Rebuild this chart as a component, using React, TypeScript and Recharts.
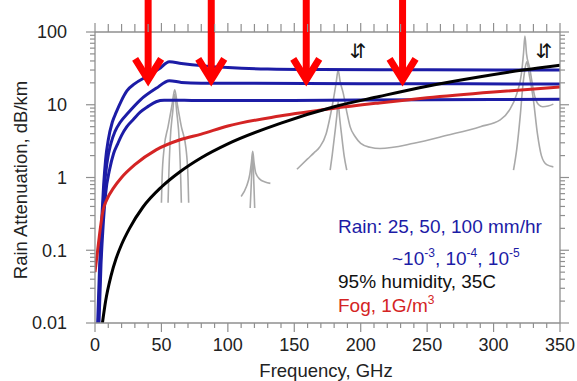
import { LineChart, Line, XAxis, YAxis, ReferenceDot } from "recharts";

const W = 577;
const H = 381;
const FONT = '"Liberation Sans", Arial, sans-serif';
const AXIS = "#8f8f8f";
const BLUE = "#1c1ca6";
const RED = "#d42424";

// rain, 100 mm/hr
const rain100Freq = [2, 3.5, 5, 6.5, 8, 10, 13, 16, 20, 24, 30, 39, 48, 56, 65, 80, 100, 130, 170, 250, 350];
const rain100Att = [0.01, 0.063, 0.25, 0.79, 1.78, 3.3, 5.75, 7.9, 11.5, 15.5, 19.5, 24.5, 30.9, 38.9, 37, 34.5, 32.5, 31, 30.5, 30.2, 30];

// rain, 50 mm/hr
const rain50Freq = [2.5, 4, 5.5, 7, 9, 12, 15, 19, 25, 34, 46, 56, 65, 80, 120, 200, 350];
const rain50Att = [0.01, 0.063, 0.25, 0.71, 1.58, 2.95, 4.27, 5.75, 7.76, 11.6, 16.8, 21.4, 20.3, 19.8, 19.7, 19.5, 19.3];

// rain, 25 mm/hr
const rain25Freq = [3, 4.5, 6, 8, 11, 14, 17, 20, 24, 29, 34, 40, 46, 52, 60, 100, 200, 300, 350];
const rain25Att = [0.01, 0.063, 0.2, 0.6, 1.29, 2.14, 2.88, 3.8, 5.0, 6.3, 7.9, 9.5, 11, 11.5, 11.5, 11.4, 11.6, 11.8, 11.9];

// fog, 1 g/m3
const fogFreq = [0, 2, 4, 6, 9, 14, 20, 30, 46, 64, 80, 100, 139, 179, 214, 250, 300, 350];
const fogAtt = [0.05, 0.1, 0.2, 0.35, 0.5, 0.72, 1.0, 1.5, 2.4, 3.3, 3.95, 5.1, 7.0, 8.9, 10.6, 12.5, 15, 17.5];

// 95% humidity, 35C
const humidFreq = [5.6, 8, 12, 16, 20, 26, 36, 50, 64, 80, 100, 140, 180, 214, 250, 290, 322, 350];
const humidAtt = [0.01, 0.02, 0.044, 0.078, 0.12, 0.2, 0.39, 0.74, 1.2, 1.87, 2.9, 5.6, 9.4, 13, 18, 24.3, 30, 35];

// grey absorption lines (overlay)
const o2OuterFreq = [50, 50.5, 52, 55, 58, 60, 62, 65, 68.5, 70, 70.5];
const o2OuterAtt = [0.45, 1, 2.5, 5, 10, 16, 10, 5, 2.5, 1, 0.45];
const o2InnerFreq = [55, 55.5, 56.5, 58.5, 60, 61.5, 63.5, 64.5, 65];
const o2InnerAtt = [0.45, 1, 3, 8, 14, 8, 3, 1, 0.45];
const o2bOuterFreq = [110, 114, 116.5, 117.7, 118.7, 119.7, 121, 124, 128, 132];
const o2bOuterAtt = [0.55, 0.75, 1.1, 1.6, 2.3, 1.6, 1.15, 0.95, 0.87, 0.83];
const o2bInnerFreq = [116.8, 117.6, 118.7, 119.6, 120.2];
const o2bInnerAtt = [0.38, 0.8, 2.1, 0.8, 0.38];
const h2oFreq = [152, 160, 165, 169, 174, 177, 179.5, 181.5, 183, 184.5, 187, 189.5, 192, 196, 200, 207, 214.5, 240, 265, 290, 305, 312, 317.4, 321, 322.5, 323.6, 324.8, 327, 331, 334, 337, 341, 345];
const h2oAtt = [1.3, 1.8, 2.2, 2.6, 4.0, 6.9, 12, 20, 30, 21, 14, 8, 5, 3.6, 2.95, 2.6, 2.5, 2.95, 3.8, 5.0, 6.2, 8.5, 14, 27, 50, 88, 50, 33, 13, 10, 9.4, 9.6, 10.2];
const h2oInnerFreq = [177, 178.5, 180.5, 182, 183, 184, 185.5, 187.5, 189.5];
const h2oInnerAtt = [1.26, 2, 4, 7, 11, 7, 4, 2, 1.26];
const h2oBInnerFreq = [315, 317.5, 320, 322, 323.5, 325, 327, 330, 333, 336, 340, 345];
const h2oBInnerAtt = [1.26, 2.5, 6.8, 18, 30, 39, 25, 11.6, 4, 2, 1.5, 1.4];

// annotation positions
const arrowFreqs = [40, 87.5, 159, 231.5];
const swapFreqs = [198, 338];

const xMajorTicks = [0, 50, 100, 150, 200, 250, 300, 350];
const yMajorTicks = [0.01, 0.1, 1, 10, 100];

const xTicks = Array.from({ length: 36 }, (_, i) => i * 10);
const yTicks = [
  ...yMajorTicks.slice(0, -1).flatMap((d) => [1, 2, 3, 4, 5, 6, 7, 8, 9].map((m) => Number((m * d).toPrecision(3)))),
  100,
];

const zip = (f: number[], v: number[]) => f.map((x, i) => ({ f: x, v: v[i] }));

const grey = [
  zip(o2OuterFreq, o2OuterAtt),
  zip(o2InnerFreq, o2InnerAtt),
  zip(o2bOuterFreq, o2bOuterAtt),
  zip(o2bInnerFreq, o2bInnerAtt),
  zip(h2oFreq, h2oAtt),
  zip(h2oInnerFreq, h2oInnerAtt),
  zip(h2oBInnerFreq, h2oBInnerAtt),
];

const isMajorY = (v: number) => {
  const l = Math.log10(v);
  return Math.abs(l - Math.round(l)) < 1e-6;
};

const XTick = ({ x, y, payload, top }: any) => {
  const major = xMajorTicks.includes(payload.value);
  const len = top ? (major ? 9 : 8) : major ? 9 : 5;
  const dir = top ? -1 : 1;
  return (
    <g>
      <line x1={x} x2={x} y1={y} y2={y + dir * len} stroke={AXIS} strokeWidth={1.2} />
      {major && !top && (
        <text x={x} y={y + 28} textAnchor="middle" fontSize={18} fill="#222" fontFamily={FONT}>
          {payload.value}
        </text>
      )}
    </g>
  );
};

const YTick = ({ x, y, payload, right }: any) => {
  const major = isMajorY(payload.value);
  const len = major ? 9 : 5;
  const dir = right ? 1 : -1;
  return (
    <g>
      <line x1={x} x2={x + dir * len} y1={y} y2={y} stroke={AXIS} strokeWidth={1.2} />
      {major && !right && (
        <text x={x - 28} y={y} dy="0.35em" textAnchor="end" fontSize={18} fill="#222" fontFamily={FONT}>
          {String(payload.value)}
        </text>
      )}
    </g>
  );
};

const Arrow = ({ cx, cy }: any) => (
  <g>
    <path d={`M${cx},${cy - 84} L${cx},${cy - 6}`} stroke="#ff0000" strokeWidth={7} fill="none" />
    <path
      d={`M${cx - 13},${cy - 24} L${cx},${cy - 3} L${cx + 13},${cy - 24}`}
      stroke="#ff0000"
      strokeWidth={7}
      fill="none"
      strokeLinejoin="miter"
    />
  </g>
);

const Swap = ({ cx, cy }: any) => (
  <text x={cx} y={cy} dy="0.35em" textAnchor="middle" fontSize={20} fill="#111" fontFamily="DejaVu Sans">
    ⇵
  </text>
);

export default function App() {
  return (
    <div style={{ position: "absolute", left: 0, top: 0, width: W, height: H, background: "#fff" }}>
      <LineChart width={W} height={H} margin={{ top: 22, right: 7, bottom: 8, left: 10 }}>
        <XAxis
          dataKey="f"
          type="number"
          domain={[0, 350]}
          allowDataOverflow
          ticks={xTicks}
          interval={0}
          height={50}
          tickSize={0}
          tickMargin={0}
          tickLine={false}
          axisLine={{ stroke: AXIS, strokeWidth: 1.3 }}
          tick={(p: any) => <XTick {...p} />}
        />
        <XAxis
          xAxisId="top"
          orientation="top"
          dataKey="f"
          type="number"
          domain={[0, 350]}
          allowDataOverflow
          ticks={xTicks}
          interval={0}
          height={10}
          tickSize={0}
          tickMargin={0}
          tickLine={false}
          axisLine={{ stroke: AXIS, strokeWidth: 1.3 }}
          tick={(p: any) => <XTick {...p} top />}
        />
        <YAxis
          scale="log"
          domain={[0.01, 100]}
          allowDataOverflow
          ticks={yTicks}
          interval={0}
          width={85}
          tickSize={0}
          tickMargin={0}
          tickLine={false}
          axisLine={{ stroke: AXIS, strokeWidth: 1.3 }}
          tick={(p: any) => <YTick {...p} />}
        />
        <YAxis
          yAxisId="right"
          orientation="right"
          scale="log"
          domain={[0.01, 100]}
          allowDataOverflow
          ticks={yTicks}
          interval={0}
          width={10}
          tickSize={0}
          tickMargin={0}
          tickLine={false}
          axisLine={{ stroke: AXIS, strokeWidth: 1.3 }}
          tick={(p: any) => <YTick {...p} right />}
        />

        {grey.map((d, i) => (
          <Line
            key={`g${i}`}
            data={d}
            dataKey="v"
            type="monotone"
            stroke="#a9a9a9"
            strokeWidth={1.6}
            dot={false}
            isAnimationActive={false}
          />
        ))}
        <Line data={zip(rain100Freq, rain100Att)} dataKey="v" type="monotone" stroke={BLUE} strokeWidth={3} dot={false} isAnimationActive={false} />
        <Line data={zip(rain50Freq, rain50Att)} dataKey="v" type="monotone" stroke={BLUE} strokeWidth={3} dot={false} isAnimationActive={false} />
        <Line data={zip(rain25Freq, rain25Att)} dataKey="v" type="monotone" stroke={BLUE} strokeWidth={3} dot={false} isAnimationActive={false} />
        <Line data={zip(fogFreq, fogAtt)} dataKey="v" type="monotone" stroke={RED} strokeWidth={3} dot={false} isAnimationActive={false} />
        <Line data={zip(humidFreq, humidAtt)} dataKey="v" type="monotone" stroke="#000" strokeWidth={3} dot={false} isAnimationActive={false} />

        {arrowFreqs.map((f) => (
          <ReferenceDot key={`a${f}`} x={f} y={20} r={0} ifOverflow="visible" shape={(p: any) => <Arrow {...p} />} />
        ))}
        {swapFreqs.map((f) => (
          <ReferenceDot key={`s${f}`} x={f} y={55} r={0} ifOverflow="visible" shape={(p: any) => <Swap {...p} />} />
        ))}
      </LineChart>

      <svg
        width={W}
        height={H}
        style={{ position: "absolute", left: 0, top: 0, pointerEvents: "none" }}
        fontFamily={FONT}
      >
        <text x={27} y={180} fontSize={18.5} fill="#222" textAnchor="middle" transform="rotate(-90 27 180)">
          Rain Attenuation, dB/km
        </text>
        <text x={326} y={377} fontSize={18.5} fill="#222" textAnchor="middle">
          Frequency, GHz
        </text>
        <text x={338} y={233} fontSize={19} fill={BLUE}>
          Rain: 25, 50, 100 mm/hr
        </text>
        <text x={392} y={265} fontSize={19} fill={BLUE}>
          ~10<tspan fontSize={12} dy={-8}>-3</tspan>
          <tspan dy={8}>, 10</tspan>
          <tspan fontSize={12} dy={-8}>-4</tspan>
          <tspan dy={8}>, 10</tspan>
          <tspan fontSize={12} dy={-8}>-5</tspan>
        </text>
        <text x={338} y={288} fontSize={19} fill="#111">
          95% humidity, 35C
        </text>
        <text x={338} y={312} fontSize={19} fill={RED}>
          Fog, 1G/m<tspan fontSize={12} dy={-8}>3</tspan>
        </text>
      </svg>
    </div>
  );
}
